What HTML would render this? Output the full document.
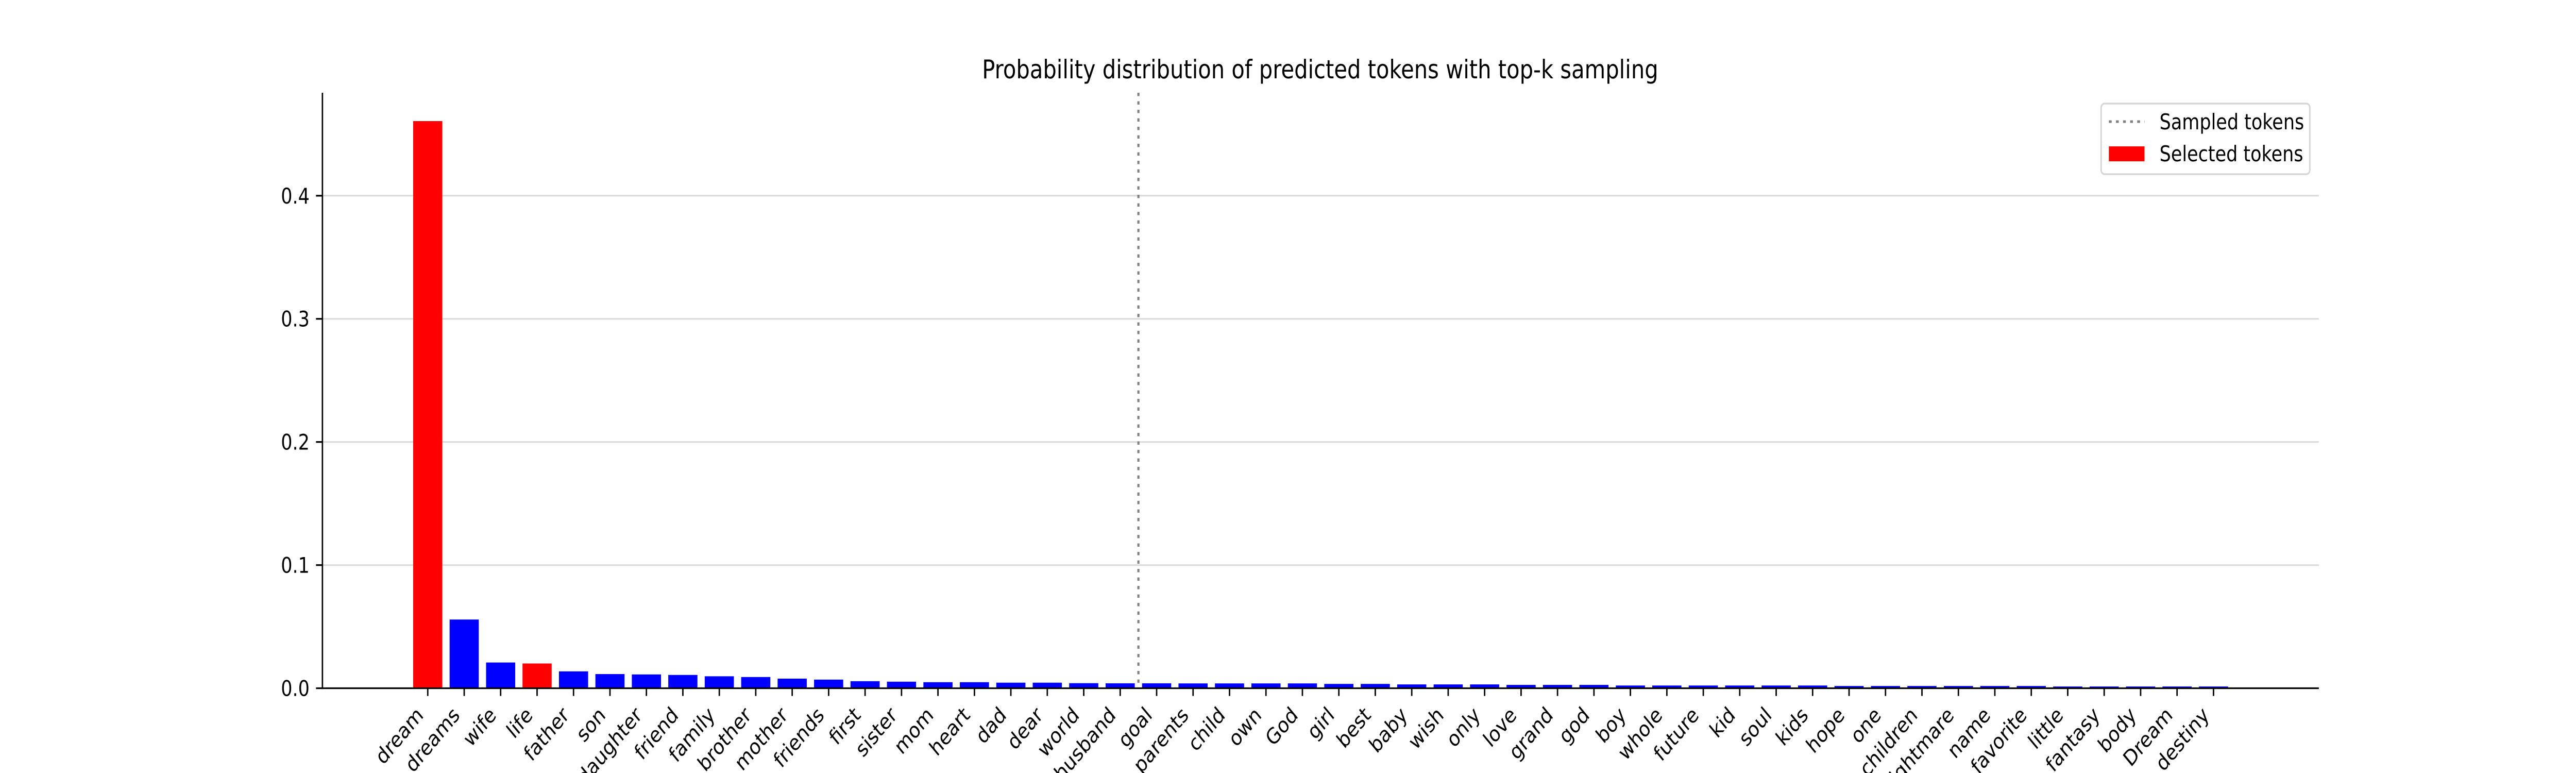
<!DOCTYPE html>
<html><head><meta charset="utf-8">
<style>
html,body{margin:0;padding:0;background:#fff;overflow:hidden;width:100%;height:100%;}
svg{display:block;font-family:"DejaVu Sans","Liberation Sans",sans-serif;width:100vw;height:100vh;}
</style></head>
<body>
<svg id="chart" viewBox="0 0 6000 1500" preserveAspectRatio="none" xmlns="http://www.w3.org/2000/svg">
  <rect x="0" y="0" width="6000" height="1500" fill="#fff"/>
  <text x="3075" y="152" font-size="50" text-anchor="middle">Probability distribution of predicted tokens with top-k sampling</text>
  <g id="grid"></g>
  <g id="bars"></g>
  <g id="axes"></g>
  <g id="legend">
    <rect x="4894" y="201" width="486" height="137" rx="8" fill="#fff" stroke="#d6d6d6" stroke-width="3.5"/>
    <line x1="4912" y1="236" x2="4995" y2="236" stroke="#808080" stroke-width="5" stroke-dasharray="6.5 10"/>
    <text x="5030" y="251" font-size="42">Sampled tokens</text>
    <rect x="4912" y="284" width="83" height="29" fill="#ff0000"/>
    <text x="5030" y="313" font-size="42">Selected tokens</text>
  </g>
</svg>
<script>
const categories = ["dream","dreams","wife","life","father","son","daughter","friend","family","brother","mother","friends","first","sister","mom","heart","dad","dear","world","husband","goal","parents","child","own","God","girl","best","baby","wish","only","love","grand","god","boy","whole","future","kid","soul","kids","hope","one","children","nightmare","name","favorite","little","fantasy","body","Dream","destiny"];
const probabilities = [0.4606,0.0558,0.0209,0.0201,0.0137,0.0115,0.0112,0.0108,0.0097,0.0091,0.0078,0.0070,0.0057,0.0053,0.0049,0.0049,0.0045,0.0045,0.0041,0.0040,0.0040,0.0039,0.0039,0.0039,0.0039,0.0035,0.0035,0.0031,0.0031,0.0031,0.0027,0.0027,0.0027,0.0022,0.0022,0.0022,0.0022,0.0022,0.0022,0.0018,0.0018,0.0018,0.0018,0.0018,0.0018,0.0014,0.0014,0.0014,0.0014,0.0014];
const selected = ["dream","life"];
const sampledCutoff = 19.5;
const yTicks = [0.0,0.1,0.2,0.3,0.4];
const yTickLabels = ["0.0","0.1","0.2","0.3","0.4"];

const NS = "http://www.w3.org/2000/svg";
const L = 751, R = 5401, T = 180, B = 1335.5;
const n = categories.length;
const span = (n - 1) + 0.8 + 0.1 * ((n - 1) + 0.8);
const xMin = -0.4 - 0.05 * ((n - 1) + 0.8);
const xs = v => L + (v - xMin) / span * (R - L);
const yMax = Math.max(...probabilities) * 1.05;
const ys = v => B - v / yMax * (B - T);
function mk(tag, attrs, parent) {
  const e = document.createElementNS(NS, tag);
  for (const k in attrs) e.setAttribute(k, attrs[k]);
  parent.appendChild(e);
  return e;
}
const grid = document.getElementById('grid');
const bars = document.getElementById('bars');
const axes = document.getElementById('axes');

yTicks.forEach((t, i) => {
  const y = ys(t);
  const g = mk('line', {x1: L, x2: R, y1: y, y2: y, stroke: '#d9d9d9', 'stroke-width': 3}, grid);
  
  
  const tk = mk('line', {x1: L - 15, x2: L, y1: y, y2: y, stroke: '#000', 'stroke-width': 3.3}, axes);
  
  
  const lb = mk('text', {x: L - 30, y: y + 15, 'font-size': 42, 'text-anchor': 'end'}, axes);
  lb.textContent = yTickLabels[i];
  
  
});

categories.forEach((c, i) => {
  const x0 = xs(i - 0.4), x1 = xs(i + 0.4);
  const y = ys(probabilities[i]);
  const b = mk('rect', {x: x0, y: y, width: x1 - x0, height: B - y, fill: selected.includes(c) ? '#ff0000' : '#0000ff'}, bars);
  
  
  const cx = xs(i);
  const tk = mk('line', {x1: cx, x2: cx, y1: B, y2: B + 15, stroke: '#000', 'stroke-width': 3.3}, axes);
  
  
  const ex = cx - 8, ey = 1390;
  const lb = mk('text', {x: ex, y: ey, 'font-size': 42, 'text-anchor': 'end', transform: 'rotate(-45 ' + ex + ' ' + ey + ')'}, axes);
  lb.textContent = c;
  
  
});

const vx = xs(sampledCutoff);
const vl = mk('line', {x1: vx, x2: vx, y1: T, y2: B, stroke: '#808080', 'stroke-width': 5, 'stroke-dasharray': '6.5 10'}, axes);



const ya = mk('line', {x1: L, x2: L, y1: T, y2: B + 1.6, stroke: '#000', 'stroke-width': 3.3}, axes);


const xa = mk('line', {x1: L - 1.6, x2: R, y1: B, y2: B, stroke: '#000', 'stroke-width': 3.3}, axes);


</script>
</body></html>
